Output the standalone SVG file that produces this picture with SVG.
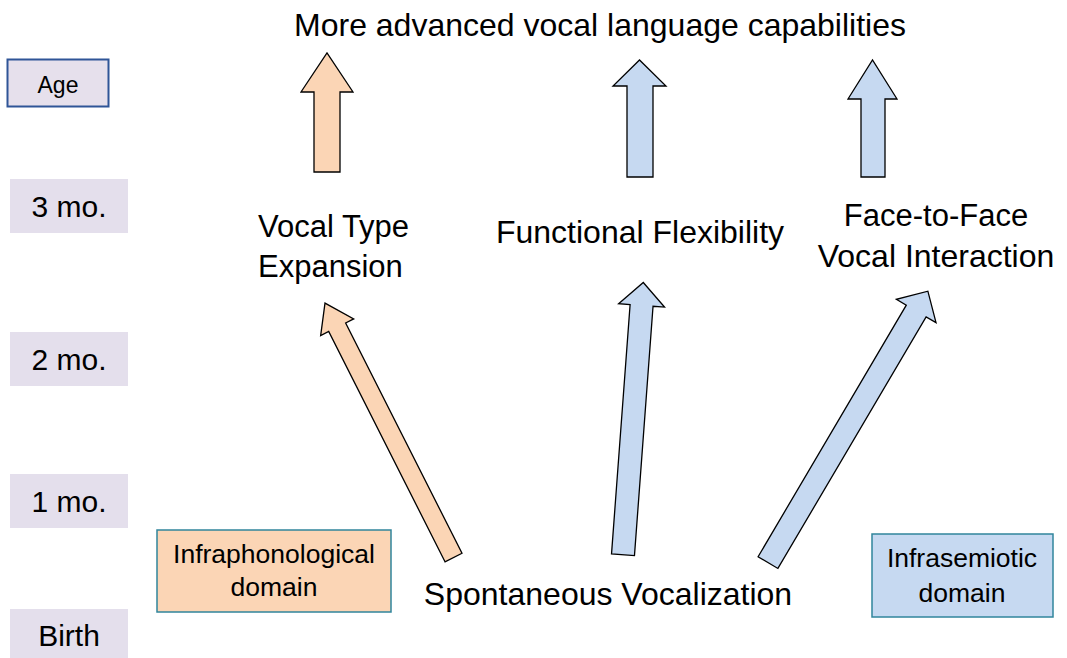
<svg xmlns="http://www.w3.org/2000/svg" width="1067" height="658" viewBox="0 0 1067 658">
<style>
text{font-family:"Liberation Sans",Arial,sans-serif;fill:#000}
.big{font-size:31px}
.big2{font-size:32px}
.age{font-size:30px;text-anchor:middle}
.dom{font-size:26.5px;text-anchor:middle}
.agebox{fill:#E4DFEC}
.or{fill:#FBD5B5;stroke:#000;stroke-width:1.3;stroke-linejoin:miter}
.bl{fill:#C6D9F1;stroke:#000;stroke-width:1.3;stroke-linejoin:miter}
</style>
<rect width="1067" height="658" fill="#fff"/>
<g id="title"><text class="big2" x="600" y="36" text-anchor="middle">More advanced vocal language capabilities</text></g>
<g id="age-header"><rect x="7.5" y="59.5" width="101" height="47" fill="#E6E0EC" stroke="#2F5597" stroke-width="2"/><text x="58" y="93" font-size="23" text-anchor="middle">Age</text></g>
<g id="age-3mo"><rect class="agebox" x="10" y="179" width="118" height="54"/><text class="age" x="69" y="217">3 mo.</text></g>
<g id="age-2mo"><rect class="agebox" x="10" y="332" width="118" height="54"/><text class="age" x="69" y="370">2 mo.</text></g>
<g id="age-1mo"><rect class="agebox" x="10" y="474" width="118" height="54"/><text class="age" x="69" y="512">1 mo.</text></g>
<g id="age-birth"><rect class="agebox" x="10" y="609" width="118" height="49"/><text class="age" x="69" y="646">Birth</text></g>
<g id="infraphonological"><rect x="157" y="530" width="234" height="82" fill="#FBD5B5" stroke="#31859C" stroke-width="1.5"/><text class="dom" x="274" y="563">Infraphonological</text><text class="dom" x="274" y="596">domain</text></g>
<g id="infrasemiotic"><rect x="872" y="534" width="181" height="83" fill="#C6D9F1" stroke="#31859C" stroke-width="1.5"/><text class="dom" x="962" y="567" font-size="26">Infrasemiotic</text><text class="dom" x="962" y="602" font-size="26">domain</text></g>
<g id="vocal-type"><text class="big" x="258" y="237">Vocal Type</text><text class="big" x="258" y="277">Expansion</text></g>
<g id="functional"><text class="big2" x="640" y="243" text-anchor="middle">Functional Flexibility</text></g>
<g id="face-to-face"><text class="big" x="936" y="226" text-anchor="middle">Face-to-Face</text><text class="big2" x="936" y="267" text-anchor="middle">Vocal Interaction</text></g>
<g id="spontaneous"><text class="big2" x="608" y="605" text-anchor="middle">Spontaneous Vocalization</text></g>
<g id="connectors">
<polygon class="or" points="314,172 314,92 301,92 327,53 353,92 340,92 340,172"/>
<polygon class="bl" points="627,177 627,86 613,86 639.5,60 666,86 653,86 653,177"/>
<polygon class="bl" points="861,177 861,99 848,99 872.5,60 897,99 885,99 885,177"/>
<polygon class="or" transform="translate(453.5,557.5) rotate(-26.8)" points="-9.5,0 -9.5,-258 -18.5,-258 0,-285 18.5,-258 9.5,-258 9.5,0"/>
<polygon class="bl" transform="translate(623,554.7) rotate(4.26)" points="-11.5,0 -11.5,-250 -23,-250 0,-273 23,-250 11.5,-250 11.5,0"/>
<polygon class="bl" transform="translate(768,562.6) rotate(30.5)" points="-11.5,0 -11.5,-292 -23,-292 0,-315 23,-292 11.5,-292 11.5,0"/>
</g>
</svg>
